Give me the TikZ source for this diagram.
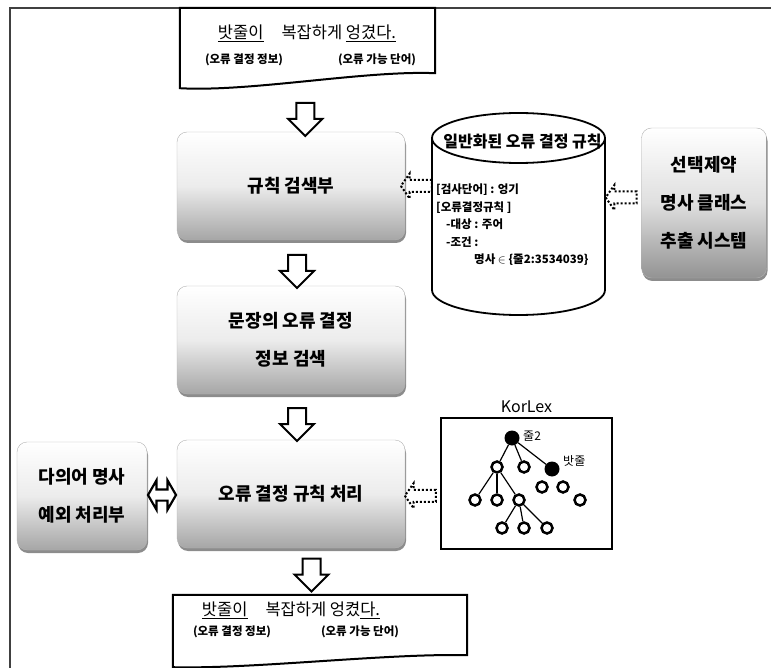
\documentclass[tikz,border=0pt]{standalone}
\usepackage{fontspec}
\setmainfont{Noto Sans CJK KR}
\usetikzlibrary{positioning,calc,shapes.arrows,shadows}

\tikzstyle{block} = [rectangle, rounded corners=10pt, minimum width=228pt, minimum height=108pt, align=center, draw=gray!60, top color=white, bottom color=gray!70, middle color=gray!15, drop shadow={shadow xshift=1pt, shadow yshift=-3pt, opacity=0.9}, font=\fontsize{18}{38}\selectfont\bfseries]
\tikzstyle{doc} = [line width=2pt, draw=black, fill=white]
\tikzstyle{downarrow} = [single arrow, draw=black, line width=2pt, fill=white, minimum height=33pt, inner sep=8pt, single arrow head extend=8pt, shape border rotate=270]
\tikzstyle{dotarrow} = [single arrow, draw=black, dotted, line width=2pt, minimum height=31pt, inner sep=5pt, single arrow head extend=6.5pt, single arrow tip angle=110, shape border rotate=180]
\tikzstyle{twoway} = [double arrow, draw=black, line width=2.2pt, minimum height=28pt, inner sep=4.5pt, double arrow head extend=9pt, double arrow tip angle=120]
\tikzstyle{hub} = [circle, fill=black, minimum size=15pt, inner sep=0pt]
\tikzstyle{leaf} = [circle, draw=black, line width=2.5pt, fill=white, minimum size=11pt, inner sep=0pt]
\tikzstyle{edge} = [line width=1.2pt]
\tikzstyle{big} = [font=\fontsize{16.5}{18}\selectfont]
\tikzstyle{small} = [font=\fontsize{11.5}{12}\selectfont\bfseries]

\begin{document}
\begin{tikzpicture}[x=1pt, y=-1pt, node distance=154pt]
\useasboundingbox (0,0) rectangle (771,668);

% outer frame
\draw [gray!50!black, line width=1.5pt] (10,8) rectangle (790,690);

% main column
\node (srch) [block] at (291,186) {규칙 검색부};
\node (extr) [block, below of=srch] {문장의 오류 결정\\정보 검색};
\node (proc) [block, below of=extr] {오류 결정 규칙 처리};
\node (poly) [block, minimum width=130pt] at (82,496) {다의어 명사\\예외 처리부};
\node (sel)  [block, minimum width=125pt, minimum height=150pt, bottom color=gray!85, middle color=gray!25] at (704,203) {선택제약\\명사 클래스\\추출 시스템};

% input sentence
\node (doc1) [minimum width=255pt, minimum height=80pt] at (307.5,48) {};
\draw [doc] (doc1.north west) -- (doc1.north east) -- ([yshift=15pt]doc1.south east)
      .. controls ([xshift=-70pt, yshift=18pt]doc1.south east) and ([xshift=70pt, yshift=-4pt]doc1.south west) .. (doc1.south west) -- cycle;
\node (s1) [big] at (307,33) {\underline{밧줄이}\hspace{18pt}복잡하게 \underline{엉겼다.}};
\node (e1) [small] at (244,60) {(오류 결정 정보)};
\node (w1) [small] at (377,60) {(오류 가능 단어)};

% output sentence
\node (doc2) [minimum width=294pt, minimum height=72pt] at (320,631) {};
\draw [doc] (doc2.north west) -- (doc2.north east) -- ([yshift=12pt]doc2.south east)
      .. controls ([xshift=-80pt, yshift=14pt]doc2.south east) and ([xshift=80pt, yshift=-2pt]doc2.south west) .. (doc2.south west) -- cycle;
\node (s2) [big] at (291,610) {\underline{밧줄이}\hspace{18pt}복잡하게 엉켰\underline{다.}};
\node (e2) [small] at (232,632) {(오류 결정 정보)};
\node (w2) [small] at (360,632) {(오류 가능 단어)};

% rule store
\node (rules) [minimum width=173pt, minimum height=202pt] at (518.5,214) {};
\coordinate (cyl) at (518.5,138);
\draw [line width=1.8pt, fill=white] ($(cyl)+(-86.5,0)$) -- ++(0,152)
      arc [start angle=180, end angle=360, x radius=86.5pt, y radius=25pt] -- ++(0,-152);
\draw [line width=1.8pt, fill=white] (cyl) ellipse [x radius=86.5pt, y radius=25pt];
\node (rulest) [font=\fontsize{16}{18}\selectfont\bfseries] at ($(cyl)+(4,4)$) {일반화된 오류 결정 규칙};
\node (rulesb) [anchor=north west, align=left, inner sep=0pt, font=\fontsize{11.5}{17.5}\selectfont\bfseries] at (436,184)
      {{[}검사단어] : 엉기\\{[}오류결정규칙 ]\\\hspace{10pt}-대상 : 주어\\\hspace{10pt}-조건 :\\\hspace{38pt}명사 $\in$ \{줄2:3534039\}};

% KorLex
\node (kor) [draw, line width=2.5pt, minimum width=171pt, minimum height=131pt] at (526.5,483.5) {};
\node (korl) [above=1pt of kor, font=\fontsize{16}{18}\selectfont] {KorLex};
\node (r)   [hub]  at (512,438) {};
\node (a)   [leaf] at (497,467) {};
\node (b)   [leaf] at (524,467) {};
\node (c)   [hub]  at (552,469) {};
\node (a1)  [leaf] at (475,500) {};
\node (a2)  [leaf] at (497,500) {};
\node (a3)  [leaf] at (519,500) {};
\node (c1)  [leaf] at (542,487) {};
\node (c2)  [leaf] at (563,487) {};
\node (d)   [leaf] at (580,500) {};
\node (a31) [leaf] at (502,528) {};
\node (a32) [leaf] at (524,528) {};
\node (a33) [leaf] at (547,528) {};
\node (rl) [right=0pt of r, yshift=2pt, font=\fontsize{12}{14}\selectfont] {줄2};
\node (cl) [right=0pt of c, yshift=8pt, font=\fontsize{12}{14}\selectfont] {밧줄};
\draw [edge] (r) -- (a);
\draw [edge] (r) -- (b);
\draw [edge] (r) -- (c);
\draw [edge] (a) -- (a1);
\draw [edge] (a) -- (a2);
\draw [edge] (a) -- (a3);
\draw [edge] (a3) -- (a31);
\draw [edge] (a3) -- (a32);
\draw [edge] (a3) -- (a33);

% flow arrows
\node (f1) [downarrow, xshift=6pt, yshift=-5pt] at ($(doc1.south)!.5!(srch.north)$) {};
\node (f2) [downarrow, xshift=6pt, yshift=-4pt] at ($(srch.south)!.5!(extr.north)$) {};
\node (f3) [downarrow, xshift=6pt, yshift=-3pt] at ($(extr.south)!.5!(proc.north)$) {};
\node (f4) [downarrow, xshift=6pt, yshift=1pt] at ($(proc.south)!.5!(doc2.north)$) {};
\node (g1) [dotarrow] at ($(srch.east)!.5!(srch.east -| rules.west)$) {};
\node (g2) [dotarrow, yshift=11pt] at ($(rules.east)!.5!(sel.west)$) {};
\node (g3) [dotarrow, yshift=-7pt] at ($(proc.east)!.5!(kor.west)$) {};
\node (h1) [twoway] at ($(poly.east)!.5!(proc.west)$) {};
\end{tikzpicture}
\end{document}
